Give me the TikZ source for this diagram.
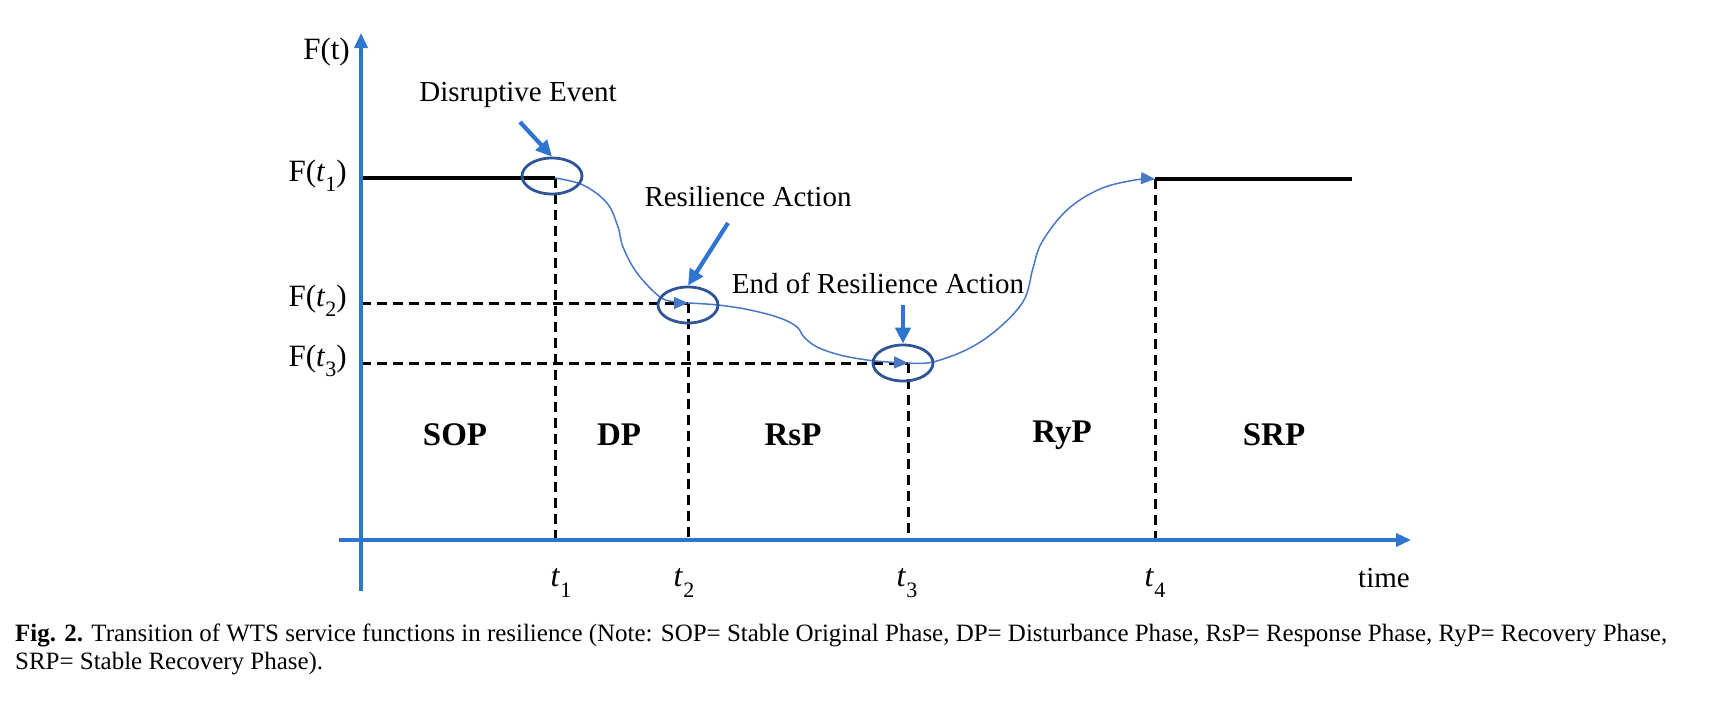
\documentclass[tikz,border=0pt]{standalone}
\usepackage{graphicx}
\usepackage{fontspec}
\setmainfont{Liberation Serif}
\usetikzlibrary{arrows.meta,shapes.geometric}
\definecolor{axblue}{HTML}{2E75D0}
\definecolor{elblue}{HTML}{2F5597}
\definecolor{cvblue}{HTML}{4A78C8}
\newsavebox{\capboxA}
\newcommand{\tvar}[1]{\textit{t}\raisebox{-0.32em}{\fontsize{22}{24}\selectfont #1}}
\begin{document}
\sbox{\capboxA}{\fontsize{20}{24}\selectfont\textbf{Fig. 2.} Transition of WTS service functions in resilience (Note: SOP= Stable Original Phase, DP= Disturbance Phase, RsP= Response Phase, RyP= Recovery Phase,}%
\pgfmathsetmacro{\capscale}{1652/\the\wd\capboxA}%
\begin{tikzpicture}[x=1pt,y=-1pt,
  axisline/.style={draw=axblue,line width=3.5pt,-{Triangle[length=15pt,width=13pt]}},
  levelline/.style={draw=black,line width=4pt},
  guide/.style={draw=black,line width=3pt,dash pattern=on 10pt off 6pt},
  ring/.style={draw=elblue,line width=2.8pt,ellipse,minimum width=60pt,minimum height=36pt,inner sep=0pt},
  callout/.style={draw=axblue,line width=4.2pt,-{Triangle[length=16pt,width=15pt]}},
  curve/.style={draw=cvblue,line width=1.5pt,-{Triangle[length=14pt,width=12pt]}},
  lab/.style={font=\fontsize{29}{34}\selectfont,inner sep=0pt},
  tlab/.style={font=\fontsize{32}{36}\selectfont,inner sep=0pt},
  flab/.style={font=\fontsize{31}{36}\selectfont,inner sep=0pt,anchor=east},
  phase/.style={font=\bfseries\fontsize{33}{38}\selectfont,inner sep=0pt},
]
\fill[white] (0,0) rectangle (1725,707);
\useasboundingbox (0,0) rectangle (1725,707);

% key coordinates
\coordinate (ytop) at (361,33);
\coordinate (ybot) at (361,591);
\coordinate (xl) at (339,540);
\coordinate (xr) at (1411,540);
\coordinate (a1) at (361,178);
\coordinate (a2) at (361,303);
\coordinate (a3) at (361,363);
\coordinate (p1) at (555,178);
\coordinate (p2) at (688,303);
\coordinate (p3) at (908,363);
\coordinate (p4) at (1155,179);
\coordinate (p5) at (1352,179);
\coordinate (b1) at (555,540);
\coordinate (b2) at (688,540);
\coordinate (b3) at (908,540);
\coordinate (b4) at (1155,540);

% guides
\draw[guide] (a2) -- (p2);
\draw[guide] (a3) -- (p3);
\draw[guide] (p1) -- (b1);
\draw[guide] (p2) -- (b2);
\draw[guide] (p3) -- (b3);
\draw[guide] (p4) -- (b4);

% levels
\draw[levelline] (a1) -- (p1);
\draw[levelline] (p4) -- (p5);

% axes
\draw[axisline] (ybot) -- (ytop);
\draw[axisline] (xl) -- (xr);

% curve
\draw[curve] plot[smooth,tension=0.6] coordinates {(p1) (583,185) (607,203) (618,227) (623,247) (637,273) (660,297) (676,302) (p2)};
\draw[curve] plot[smooth,tension=0.6] coordinates {(p2) (718,305) (750,310) (780,318) (797,327) (804,337) (817,347) (840,355) (867,360) (888,362) (p3)};
\draw[curve] plot[smooth,tension=0.6] coordinates {(p3) (933,362) (970,348) (1000,327) (1024,300) (1033,268) (1042,242) (1067,210) (1100,189) (1135,180) (p4)};

% rings
\node[ring] (e1) at (552,176) {};
\node[ring] (e2) at (688,305) {};
\node[ring] (e3) at (903,363) {};

% callout texts
\node[lab] (tde) at (518,95) {Disruptive Event};
\node[lab] (tra) at (748,197) {Resilience Action};
\node[lab] (tea) at (878,283) {End of Resilience Action};
\coordinate (s1) at (520,122);
\coordinate (s2) at (728,223);
\coordinate (s3) at (903,305);
\draw[callout] (s1) -- (e1.north);
\draw[callout] (s2) -- (e2.north);
\draw[callout] (s3) -- (e3.north);

% axis labels
\node[flab] (lft) at (350,52) {F(t)};
\node[flab] (lf1) at (347,176) {F(\tvar{1})};
\node[flab] (lf2) at (347,301) {F(\tvar{2})};
\node[flab] (lf3) at (347,361) {F(\tvar{3})};

\node[tlab] (lt1) at (561,583) {\tvar{1}};
\node[tlab] (lt2) at (684,583) {\tvar{2}};
\node[tlab] (lt3) at (907,583) {\tvar{3}};
\node[tlab] (lt4) at (1155,583) {\tvar{4}};
\node[lab] (ltime) at (1384,578) {time};

% phases
\node[phase] (sop) at (455,435) {SOP};
\node[phase] (dp) at (619,435) {DP};
\node[phase] (rsp) at (793,435) {RsP};
\node[phase] (ryp) at (1062,435) {RyP};
\node[phase] (srp) at (1274,435) {SRP};

% caption
\node[anchor=west,inner sep=0pt] (cap1) at (15,635) {\scalebox{\capscale}{\usebox{\capboxA}}};
\node[anchor=west,inner sep=0pt] (cap2) at (15,664) {\scalebox{\capscale}{\fontsize{20}{24}\selectfont SRP= Stable Recovery Phase).}};
\end{tikzpicture}
\end{document}
